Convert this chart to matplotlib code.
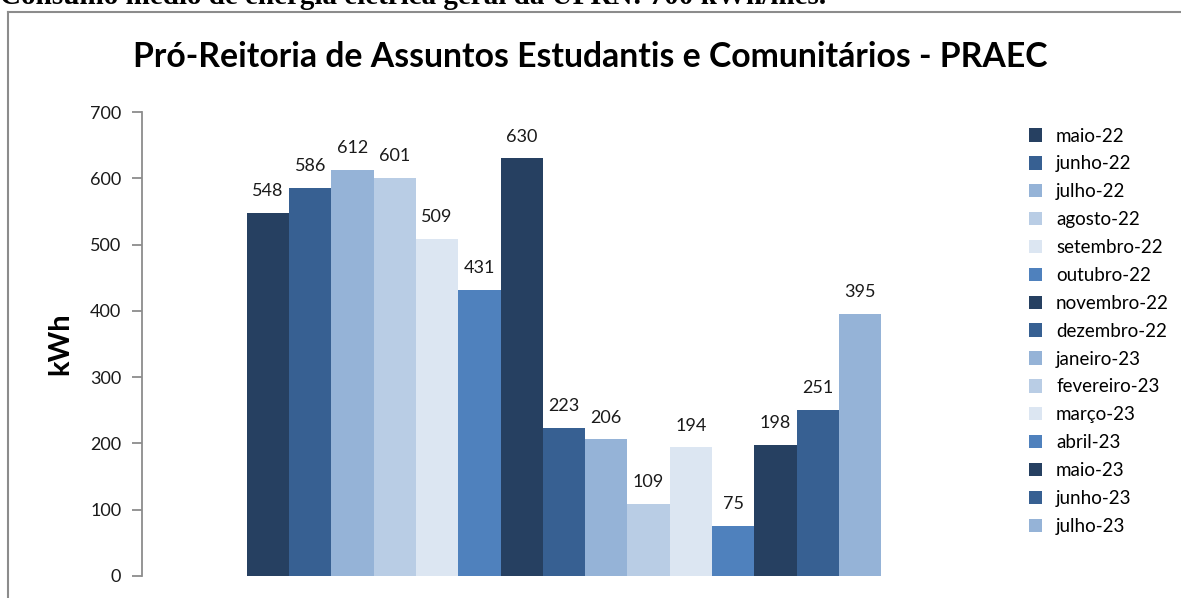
import matplotlib
matplotlib.use("Agg")
import matplotlib.pyplot as plt
from matplotlib.lines import Line2D
from matplotlib.patches import Patch

months = ["maio-22", "junho-22", "julho-22", "agosto-22", "setembro-22", "outubro-22",
          "novembro-22", "dezembro-22", "janeiro-23", "fevereiro-23", "março-23",
          "abril-23", "maio-23", "junho-23", "julho-23"]
values = [548, 586, 612, 601, 509, 431, 630, 223, 206, 109, 194, 75, 198, 251, 395]
palette = ["#264061", "#376092", "#95B3D7", "#B9CDE5", "#DCE6F2", "#4F81BD"]
yticks = [0, 100, 200, 300, 400, 500, 600, 700]
title = "Pró-Reitoria de Assuntos Estudantis e Comunitários - PRAEC"
header = "Consumo médio de energia elétrica geral da UFRN: 700 kWh/mês."

W, H = 1181, 598
fig = plt.figure(figsize=(W / 100, H / 100), dpi=100)
font = ["Lato", "DejaVu Sans"]

# outer chart frame (top and left edges visible)
fig.add_artist(Line2D([8 / W, 8 / W], [0, 1 - 12 / H], transform=fig.transFigure,
                      color="#8c8c8c", lw=1.5))
fig.add_artist(Line2D([8 / W, 1], [1 - 12 / H, 1 - 12 / H], transform=fig.transFigure,
                      color="#8c8c8c", lw=1.5))

# clipped header text from document above the chart
fig.text(0.0, 1 - 4 / H, header, ha="left", va="baseline", fontsize=21,
         fontweight="bold", family=["Liberation Serif", "DejaVu Serif"])

ax = fig.add_axes([142 / W, 1 - 576 / H, (986 - 142) / W, (576 - 112) / H])
colors = [palette[i % len(palette)] for i in range(len(values))]
xs = list(range(len(values)))
bars = ax.bar(xs, values, width=1.0, color=colors, linewidth=0)
for x, v in zip(xs, values):
    ax.annotate(str(v), (x, v), xytext=(0, 10), textcoords="offset points",
                ha="center", va="bottom", fontsize=13, family=font, color="#1a1a1a")

ax.set_xlim(-2.98, 16.98)
ax.set_ylim(0, 700)
ax.set_yticks(yticks)
ax.set_yticklabels([str(t) for t in yticks], family=font, fontsize=13)
ax.set_xticks([])
for s in ["top", "right", "bottom"]:
    ax.spines[s].set_visible(False)
ax.spines["left"].set_color("#8c8c8c")
ax.spines["left"].set_linewidth(1.3)
ax.tick_params(axis="y", direction="out", length=7, width=1.3, color="#8c8c8c",
               pad=8, labelcolor="#1a1a1a")
ax.set_ylabel("kWh", fontsize=21, fontweight="bold", family=font, labelpad=12)

fig.text(590 / W, 1 - 57 / H, title, ha="center", va="center", fontsize=24.3,
         fontweight="bold", family=font)

handles = [Patch(facecolor=c, edgecolor="none") for c in colors]
leg = fig.legend(handles, months, loc="upper left", bbox_to_anchor=(1021 / W, 1 - 120 / H),
                 frameon=False, prop={"family": font, "size": 13.5},
                 handlelength=0.72, handleheight=0.72, handletextpad=0.75,
                 labelspacing=0.58, borderaxespad=0)

fig.savefig("out.png", dpi=100)
